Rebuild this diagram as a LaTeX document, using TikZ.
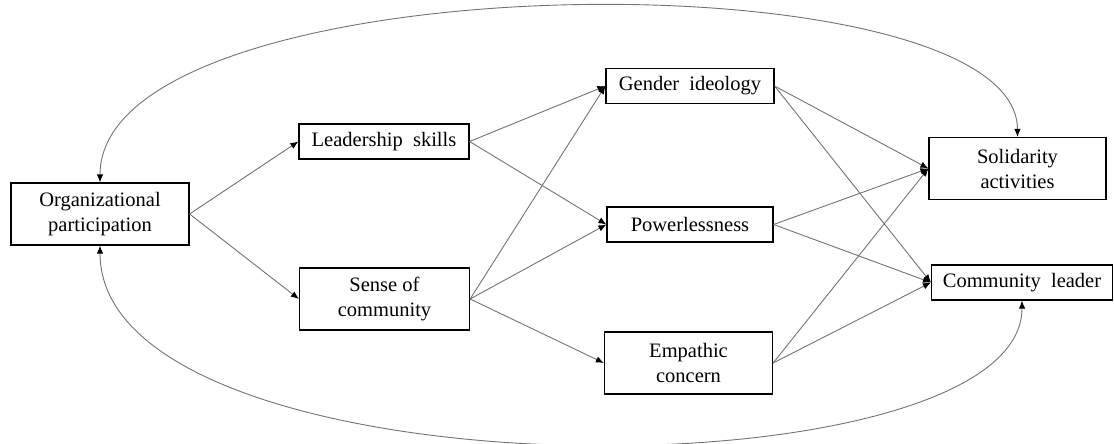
\documentclass[tikz,border=0pt]{standalone}
\usepackage{fontspec}
\setmainfont{Liberation Serif}
\usetikzlibrary{arrows.meta}

\begin{document}
\begin{tikzpicture}[x=1pt,y=-1pt]
    \tikzstyle{var} = [draw, line width=1.2pt, align=center, inner sep=0pt, minimum width=170pt, minimum height=35pt, font=\fontsize{20.5}{25}\selectfont]
    \tikzstyle{link} = [draw=black!55, line width=0.9pt, -{Latex[length=8pt,width=6.5pt,color=black]}]
    \useasboundingbox (0,0) rectangle (1114,444);
    % variables
    \node[var, minimum width=178pt, minimum height=62pt] (org) at (100,214) {Organizational\\participation};
    \node[var] (lead) at (384,141.5) {Leadership\ \ skills};
    \node[var, minimum height=62pt] (sense) at (384.5,299) {Sense of\\community};
    \node[var, minimum width=168pt] (gender) at (690,86) {Gender\ \ ideology};
    \node[var, minimum width=166pt] (power) at (690,224.5) {Powerlessness};
    \node[var, minimum width=168pt, minimum height=62pt] (empath) at (688.5,363) {Empathic\\concern};
    \node[var, minimum width=177pt, minimum height=62pt] (sol) at (1017.5,168.5) {Solidarity\\activities};
    \node[var, minimum width=181pt] (lead2) at (1022,282.5) {Community\ \ leader};
    % paths
    \foreach \a/\b in {org/lead, org/sense, lead/gender, lead/power, sense/gender, sense/power, sense/empath,
                       gender/sol, gender/lead2, power/sol, power/lead2, empath/sol, empath/lead2} {
        \draw[link] (\a.east) -- (\b.west);
    }
    % covariances with the outcomes
    \draw[link, {Latex[length=8pt,width=6.5pt,color=black]}-{Latex[length=8pt,width=6.5pt,color=black]}] (org.north) .. controls (100,-40) and (1017,-48) .. (sol.north);
    \draw[link, {Latex[length=8pt,width=6.5pt,color=black]}-{Latex[length=8pt,width=6.5pt,color=black]}] (org.south) .. controls (100,500) and (1022,500) .. (lead2.south);
\end{tikzpicture}
\end{document}
